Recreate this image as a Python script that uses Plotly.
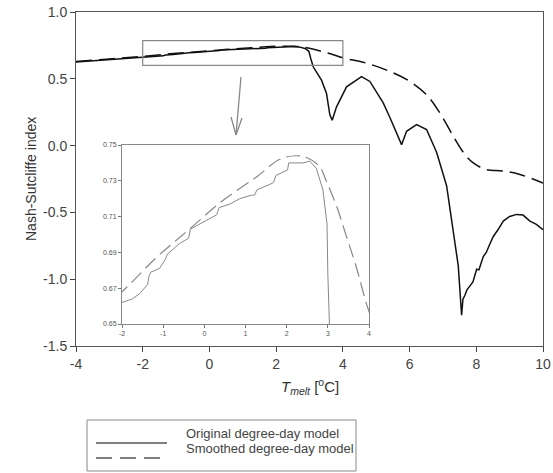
import plotly.graph_objects as go

# Nash-Sutcliffe index vs melt threshold temperature
orig_x = [-4, -3.5, -3, -2.5, -2, -1.75, -1.57, -1.45, -1.38, -1.34, -1.3, -1.09, -0.95, -0.9,
          -0.6, -0.45, -0.38, -0.34, -0.03, 0.22, 0.3, 0.36, 0.62, 0.86, 1.15, 1.22, 1.28,
          1.59, 1.68, 1.74, 1.99, 2.02, 2.05, 2.23, 2.4, 2.56, 2.72, 2.88, 2.98, 3.0, 3.04,
          3.11, 3.36, 3.51, 3.61, 3.68, 3.81, 4.11, 4.56, 4.81, 5.21, 5.41, 5.61, 5.76,
          5.91, 6.21, 6.51, 6.81, 7.11, 7.31, 7.46, 7.56, 7.6, 7.66, 7.72, 7.81, 7.9, 8.01,
          8.08, 8.21, 8.3, 8.4, 8.51, 8.65, 8.81, 9.0, 9.21, 9.4, 9.61, 9.8, 10]
orig_y = [0.625, 0.634, 0.643, 0.652, 0.662, 0.664, 0.667, 0.670, 0.672, 0.677, 0.679, 0.681,
          0.686, 0.689, 0.695, 0.697, 0.698, 0.703, 0.707, 0.710, 0.711, 0.715, 0.717, 0.720,
          0.722, 0.722, 0.725, 0.728, 0.729, 0.733, 0.736, 0.736, 0.740, 0.740, 0.740, 0.741,
          0.737, 0.725, 0.706, 0.678, 0.65,
          0.59, 0.49, 0.39, 0.23, 0.19, 0.29, 0.44, 0.517, 0.48, 0.32, 0.21, 0.095, 0.007,
          0.107, 0.157, 0.12, -0.05, -0.30, -0.65, -0.90, -1.27, -1.15, -1.12, -1.08, -1.05,
          -1.02, -0.925, -0.93, -0.83, -0.80, -0.74, -0.68, -0.63, -0.565, -0.53, -0.515,
          -0.52, -0.565, -0.59, -0.63]

smooth_x = [-4, -3, -2, -1.17, -0.36, 0.45, 1.26, 1.83, 2.23, 2.48, 2.8, 2.96, 3.21, 3.45,
            3.69, 4.0, 4.71, 5.41, 6.01, 6.51, 6.91, 7.31, 7.61, 7.91, 8.31, 8.81, 9.31, 10]
smooth_y = [0.63, 0.648, 0.668, 0.687, 0.703, 0.719, 0.732, 0.742, 0.744, 0.743, 0.738, 0.730,
            0.716, 0.699, 0.682, 0.657, 0.617, 0.555, 0.48, 0.38, 0.244, 0.07, -0.05, -0.13,
            -0.18, -0.19, -0.216, -0.28]

main_xticks = [-4, -2, 0, 2, 4, 6, 8, 10]
main_xlabels = ["-4", "-2", "0", "2", "4", "6", "8", "10"]
main_yticks = [-1.5, -1.0, -0.5, 0.0, 0.5, 1.0]
main_ylabels = ["-1.5", "-1.0", "-0.5", "0.0", "0.5", "1.0"]
inset_xticks = [-2, -1, 0, 1, 2, 3, 4]
inset_xlabels = ["-2", "-1", "0", "1", "2", "3", "4"]
inset_yticks = [0.65, 0.67, 0.69, 0.71, 0.73, 0.75]
inset_ylabels = ["0.65", "0.67", "0.69", "0.71", "0.73", "0.75"]

W, H = 553, 473
L, R, T, B = 76, 10, 12, 127
PW, PH = W - L - R, H - T - B


def px(x):
    return (x - L) / PW


def py(y):
    return (H - B - y) / PH


fig = go.Figure()

fig.add_trace(go.Scatter(x=orig_x, y=orig_y, mode="lines", name="Original degree-day model",
                         line=dict(color="#111111", width=1.5), showlegend=False))
fig.add_trace(go.Scatter(x=smooth_x, y=smooth_y, mode="lines", name="Smoothed degree-day model",
                         line=dict(color="#111111", width=1.5, dash="16px,7px", shape="spline"),
                         showlegend=False))
fig.add_trace(go.Scatter(x=orig_x, y=orig_y, mode="lines", xaxis="x2", yaxis="y2",
                         line=dict(color="#888888", width=1), showlegend=False))
fig.add_trace(go.Scatter(x=smooth_x, y=smooth_y, mode="lines", xaxis="x2", yaxis="y2",
                         line=dict(color="#888888", width=1.2, dash="14px,6px", shape="spline"),
                         showlegend=False))

axfont = dict(family="Liberation Sans, Arial, sans-serif", size=14, color="#444444")
smallfont = dict(family="Liberation Sans, Arial, sans-serif", size=7, color="#555555")

fig.update_layout(
    width=W, height=H,
    margin=dict(l=L, r=R, t=T, b=B),
    paper_bgcolor="white", plot_bgcolor="white",
    xaxis=dict(range=[-4, 10], tickvals=main_xticks, ticktext=main_xlabels, ticks="outside",
               ticklen=5, tickcolor="#444", showline=True, linecolor="#555", linewidth=1,
               mirror=True, showgrid=False, zeroline=False, tickfont=axfont, automargin=False),
    yaxis=dict(range=[-1.5, 1.0], tickvals=main_yticks, ticktext=main_ylabels, ticks="outside",
               ticklen=5, tickcolor="#444", showline=True, linecolor="#555", linewidth=1,
               mirror=True, showgrid=False, zeroline=False, tickfont=axfont, automargin=False),
    xaxis2=dict(domain=[px(122), px(369)], anchor="y2", range=[-2, 4], tickvals=inset_xticks,
                ticktext=inset_xlabels, ticks="outside", ticklen=3, tickcolor="#777",
                showline=True, linecolor="#888", mirror=True, showgrid=False, zeroline=False,
                tickfont=smallfont, automargin=False),
    yaxis2=dict(domain=[py(324), py(145)], anchor="x2", range=[0.65, 0.75], tickvals=inset_yticks,
                ticktext=inset_ylabels, ticks="outside", ticklen=3, tickcolor="#777",
                showline=True, linecolor="#888", mirror=True, showgrid=False, zeroline=False,
                tickfont=smallfont, automargin=False),
)

# zoom rectangle and arrow (drawn as lines)
fig.add_shape(type="rect", xref="x", yref="y", x0=-2, x1=4, y0=0.6, y1=0.785,
              line=dict(color="#888888", width=1.2))
arrow = dict(color="#888888", width=1.3)
fig.add_shape(type="line", xref="paper", yref="paper", x0=px(241), y0=py(77), x1=px(236),
              y1=py(135), line=arrow)
fig.add_shape(type="line", xref="paper", yref="paper", x0=px(231), y0=py(117), x1=px(236),
              y1=py(135), line=arrow)
fig.add_shape(type="line", xref="paper", yref="paper", x0=px(242), y0=py(118), x1=px(236),
              y1=py(135), line=arrow)

# axis titles
fig.add_annotation(xref="paper", yref="paper", x=px(310), y=py(399), showarrow=False,
                   text="<i>T</i><sub><i>melt</i></sub> [<sup>o</sup>C]",
                   font=dict(family="Liberation Sans, Arial, sans-serif", size=15, color="#333"))
fig.add_annotation(xref="paper", yref="paper", x=px(21), y=py(179), showarrow=False,
                   textangle=-90, text="Nash-Sutcliffe index",
                   font=dict(family="Liberation Sans, Arial, sans-serif", size=14, color="#333"))

# legend box
fig.add_shape(type="rect", xref="paper", yref="paper", x0=px(87), x1=px(356), y0=py(471),
              y1=py(420), line=dict(color="#888888", width=1))
fig.add_shape(type="line", xref="paper", yref="paper", x0=px(96), x1=px(167), y0=py(443),
              y1=py(443), line=dict(color="#555555", width=1.5))
fig.add_shape(type="line", xref="paper", yref="paper", x0=px(96), x1=px(162), y0=py(458),
              y1=py(458), line=dict(color="#555555", width=1.5, dash="16px,8px"))
legfont = dict(family="Liberation Sans, Arial, sans-serif", size=13, color="#444")
fig.add_annotation(xref="paper", yref="paper", x=px(184), y=py(443), xanchor="left",
                   showarrow=False, text="Original degree-day model", font=legfont)
fig.add_annotation(xref="paper", yref="paper", x=px(184), y=py(458), xanchor="left",
                   showarrow=False, text="Smoothed degree-day model", font=legfont)

fig.write_html("out.html", config={"displayModeBar": False},
               post_script="document.body.style.margin='0';")
